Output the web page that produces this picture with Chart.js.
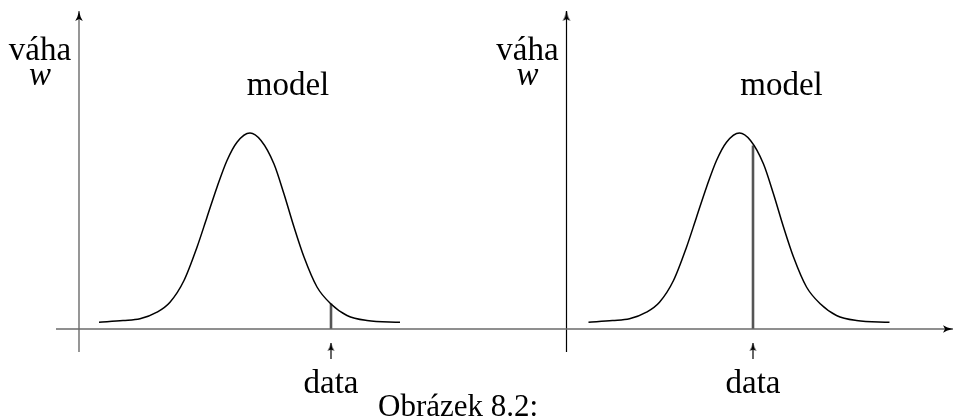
<!DOCTYPE html>
<html>
<head>
<meta charset="utf-8">
<style>
  html, body { margin: 0; padding: 0; background: #ffffff; }
  #wrap { width: 954px; height: 416px; position: relative; }
  canvas { display: block; }
</style>
<script src="https://cdn.jsdelivr.net/npm/chart.js@4.4.1/dist/chart.umd.min.js"></script>
</head>
<body>
<div id="wrap"><canvas id="c" width="954" height="416"></canvas></div>
<script>
// ---- data (arbitrary units: x along the axis, w = weight above the axis) ----
// model curve: offsets from the model centre and weights
const curveOffsets = [-151, -127, -110, -93, -80, -66, -53, -43, -33, -23, -13, 0, 11, 24, 34, 44, 54, 67, 81, 97, 117, 150];
const curveWeights = [6.8, 8.5, 10.2, 16.8, 26.8, 48.5, 81.8, 111.8, 141.8, 168.5, 186.8, 196, 188.5, 165, 135, 102, 72, 42, 25, 13.5, 8.5, 6.8];
// the two panels
const modelCentres = [250, 739.5];
const axisOrigins = [79, 566.5];
// observed data point in each panel and the model weight at that point
const dataPositions = [331, 753];
const dataWeights = [25.5, 183.5];
// texts
const yAxisTitle = ['váha', 'w'];
const modelLabel = 'model';
const dataLabel = 'data';
const captionText = 'Obrázek 8.2:';

// ---- scale extents ----
const X_MIN = 0, X_MAX = 954, Y_MIN = -87, Y_MAX = 329;

function arrowHead(len, halfW, color) {
  // arrow pointing up, tip at canvas centre
  const cv = document.createElement('canvas');
  cv.width = Math.ceil(halfW * 2) + 2;
  cv.height = Math.ceil(len * 2);
  const g = cv.getContext('2d');
  const cx = cv.width / 2, tip = cv.height / 2;
  g.fillStyle = color;
  g.beginPath();
  g.moveTo(cx, tip);
  g.quadraticCurveTo(cx + halfW * 0.3, tip + len * 0.6, cx + halfW, tip + len);
  g.lineTo(cx, tip + len * 0.8);
  g.lineTo(cx - halfW, tip + len);
  g.quadraticCurveTo(cx - halfW * 0.3, tip + len * 0.6, cx, tip);
  g.closePath();
  g.fill();
  return cv;
}
const bigArrow = arrowHead(10, 3.8, '#000');
const smallArrow = arrowHead(8, 3.3, '#000');

const datasets = [];
function seg(points, color, width, endStyle, rotation) {
  datasets.push({
    data: points,
    showLine: true,
    borderColor: color,
    borderWidth: width,
    pointRadius: points.map((p, i) => (endStyle && i === points.length - 1) ? 5 : 0),
    pointStyle: endStyle || 'circle',
    rotation: rotation || 0,
    pointBorderWidth: 0,
    pointBackgroundColor: color,
    tension: 0,
    fill: false
  });
}

// horizontal axis (shared)
seg([{x: 56, y: 0}, {x: 953, y: 0}], '#6a6a6a', 1.4, bigArrow, 90);
// vertical axes
seg([{x: axisOrigins[0], y: -23}, {x: axisOrigins[0], y: 318}], '#6a6a6a', 1.4, bigArrow, 0);
seg([{x: axisOrigins[1], y: -23}, {x: axisOrigins[1], y: 318}], '#000000', 1.2, bigArrow, 0);

// model curves
modelCentres.forEach(c => {
  datasets.push({
    data: curveOffsets.map((d, i) => ({x: c + d, y: curveWeights[i]})),
    showLine: true,
    borderColor: '#000',
    borderWidth: 1.5,
    pointRadius: 0,
    cubicInterpolationMode: 'monotone',
    fill: false
  });
});

// data lines (double stroke) and arrows
dataPositions.forEach((x, i) => {
  seg([{x: x, y: 0}, {x: x, y: dataWeights[i]}], '#555', 2.6, null, 0);
  seg([{x: x, y: 0}, {x: x, y: dataWeights[i]}], '#b0b0b0', 0.8, null, 0);
  seg([{x: x, y: -30}, {x: x, y: -14}], '#000', 1.2, smallArrow, 0);
});

const textPlugin = {
  id: 'texts',
  afterDatasetsDraw(chart) {
    const {ctx, scales: {x, y}} = chart;
    ctx.save();
    ctx.fillStyle = '#000';
    ctx.textBaseline = 'alphabetic';
    ctx.textAlign = 'center';
    const serif = '"Liberation Serif", "DejaVu Serif", serif';
    axisOrigins.forEach((ox, i) => {
      ctx.font = '33px ' + serif;
      ctx.fillText(yAxisTitle[0], x.getPixelForValue(ox - 39), y.getPixelForValue(269));
      ctx.font = 'italic 33px ' + serif;
      ctx.fillText(yAxisTitle[1], x.getPixelForValue(ox - 39), y.getPixelForValue(244));
      ctx.font = '33px ' + serif;
      ctx.fillText(modelLabel, x.getPixelForValue(modelCentres[i] + 38 + i * 4), y.getPixelForValue(234));
      ctx.fillText(dataLabel, x.getPixelForValue(dataPositions[i]), y.getPixelForValue(-64));
    });
    ctx.textAlign = 'left';
    ctx.font = '31px ' + serif;
    ctx.fillText(captionText, x.getPixelForValue(378), y.getPixelForValue(-87));
    ctx.restore();
  }
};

new Chart(document.getElementById('c'), {
  type: 'scatter',
  data: { datasets },
  options: {
    responsive: false,
    devicePixelRatio: 1,
    animation: false,
    layout: { padding: 0, autoPadding: false },
    plugins: { legend: { display: false }, tooltip: { enabled: false } },
    scales: {
      x: { type: 'linear', min: X_MIN, max: X_MAX, display: false },
      y: { type: 'linear', min: Y_MIN, max: Y_MAX, display: false }
    },
    elements: { line: { borderCapStyle: 'butt' } }
  },
  plugins: [textPlugin]
});
</script>
</body>
</html>
